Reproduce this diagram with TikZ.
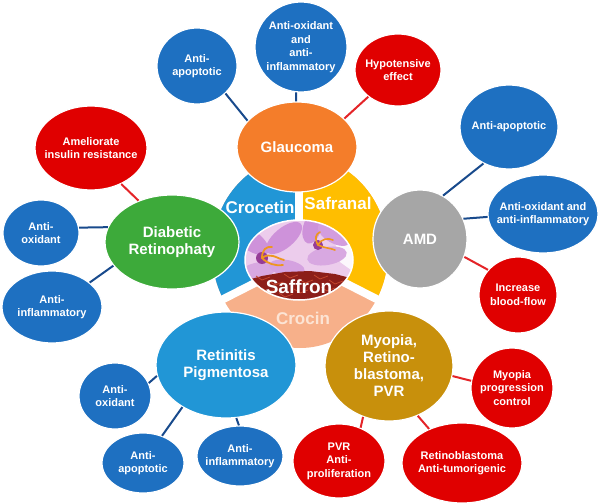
\documentclass[tikz,border=0pt]{standalone}
\usepackage{fontspec}
\setmainfont{Liberation Sans}
\usetikzlibrary{shapes.geometric}
\definecolor{nblue}{RGB}{30,112,193}
\definecolor{nred}{RGB}{224,0,0}
\definecolor{norange}{RGB}{244,125,42}
\definecolor{ngreen}{RGB}{61,170,58}
\definecolor{ngray}{RGB}{166,166,166}
\definecolor{nlblue}{RGB}{33,150,214}
\definecolor{ngold}{RGB}{200,144,12}
\definecolor{rblue}{RGB}{33,150,214}
\definecolor{ryellow}{RGB}{255,190,0}
\definecolor{rpeach}{RGB}{247,176,138}
\definecolor{crocintxt}{RGB}{252,228,212}
\definecolor{cblue}{RGB}{24,74,140}
\definecolor{cred}{RGB}{228,36,40}
\definecolor{saffbg}{RGB}{236,204,236}
\definecolor{petal}{RGB}{206,146,218}
\definecolor{petaldark}{RGB}{150,60,150}
\definecolor{stigma}{RGB}{238,150,30}
\definecolor{thread}{RGB}{140,30,25}
\definecolor{threadlight}{RGB}{195,70,45}
\tikzset{
  blob/.style={ellipse, draw=white, line width=1.2pt, inner sep=0pt},
  lbl/.style={text=white, font=\bfseries\fontsize{11}{13.5}\selectfont, align=center},
  big/.style={text=white, font=\bfseries\fontsize{15}{17}\selectfont, align=center},
  ringtxt/.style={font=\bfseries\fontsize{17}{19}\selectfont},
  bluec/.style={draw=cblue, line width=2pt},
  redc/.style={draw=cred, line width=2pt},
}
\begin{document}
\begin{tikzpicture}[x=1pt,y=1pt]
\useasboundingbox (0,0) rectangle (600,-503);
% ---- ring of compounds ----
\fill[rpeach] (300,-252) ellipse [x radius=88, y radius=96];
\begin{scope}
  \clip (300,-260) -- (300,-100) -- (122,-100) -- (122,-351) -- cycle;
  \fill[rblue] (300,-252) ellipse [x radius=88, y radius=96];
\end{scope}
\begin{scope}
  \clip (300,-260) -- (300,-100) -- (478,-100) -- (478,-351) -- cycle;
  \fill[ryellow] (300,-252) ellipse [x radius=88, y radius=96];
\end{scope}
\draw[white, line width=8pt] (299,-260) -- (299,-140);
\draw[white, line width=8pt] (300,-260) -- ++(207:120);
\draw[white, line width=8pt] (300,-260) -- ++(333:120);
\node[ringtxt, text=white] (tcrocetin) at (260,-207) {Crocetin};
\node[ringtxt, text=white] (tsafranal) at (338,-203) {Safranal};
\node[ringtxt, text=crocintxt] (tcrocin) at (303,-318) {Crocin};
% ---- saffron picture ----
\begin{scope}
  \clip (299,-260) ellipse [x radius=54, y radius=40];
  \fill[saffbg] (240,-215) rectangle (358,-305);
  \fill[white!85!saffbg] (328,-215) -- (358,-215) -- (358,-275) -- (340,-262) -- cycle;
  \fill[petal, rotate around={-35:(250,-240)}] (250,-240) ellipse [x radius=22, y radius=10];
  \fill[petal, rotate around={40:(284,-238)}] (284,-238) ellipse [x radius=22, y radius=10];
  \fill[petal!80!white, rotate around={15:(256,-272)}] (256,-272) ellipse [x radius=20, y radius=9];
  \fill[petal!85!white, rotate around={-10:(287,-268)}] (287,-268) ellipse [x radius=18, y radius=8];
  \fill[petal, rotate around={75:(312,-228)}] (312,-228) ellipse [x radius=16, y radius=9];
  \fill[petal!90!white, rotate around={-30:(334,-234)}] (334,-234) ellipse [x radius=18, y radius=9];
  \fill[petal!80!white, rotate around={10:(327,-256)}] (327,-256) ellipse [x radius=20, y radius=9];
  \fill[petaldark] (262,-258) circle [radius=6];
  \fill[petaldark] (318,-245) circle [radius=5];
  \draw[stigma, line width=1.8pt, line cap=round] (262,-258) .. controls (270,-252) and (276,-258) .. (284,-260);
  \draw[stigma, line width=1.8pt, line cap=round] (262,-258) .. controls (268,-264) and (275,-266) .. (283,-265);
  \draw[stigma, line width=1.8pt, line cap=round] (262,-258) .. controls (262,-250) and (266,-246) .. (272,-247);
  \draw[stigma, line width=1.6pt, line cap=round] (318,-245) .. controls (322,-238) and (328,-238) .. (333,-240);
  \draw[stigma, line width=1.6pt, line cap=round] (318,-245) .. controls (324,-248) and (330,-248) .. (335,-250);
  \draw[stigma, line width=1.6pt, line cap=round] (318,-245) .. controls (314,-238) and (316,-234) .. (320,-232);
  \fill[thread] (240,-282) -- (262,-276) -- (285,-272) -- (310,-271) -- (335,-274) -- (358,-280) -- (358,-305) -- (240,-305) -- cycle;
  \foreach \a/\b in {262/-280, 275/-285, 290/-278, 305/-283, 320/-279, 335/-284, 268/-292, 300/-293, 327/-291, 285/-297}
    \draw[threadlight, line width=0.8pt] (\a,\b) -- ++(8,3) (\a,\b) -- ++(-6,4);
\end{scope}
\node[ellipse, draw=white, line width=1.5pt, inner sep=0pt, minimum width=108pt, minimum height=80pt,
  label={[text=white, font=\bfseries\fontsize{19}{21}\selectfont, yshift=-27pt]center:Saffron}] (saf) at (299,-260) {};
% ---- disease nodes ----
\node[blob, fill=norange, minimum width=120pt, minimum height=90pt, label={[big]center:Glaucoma}] (gl) at (297,-147) {};
\node[blob, fill=ngreen, minimum width=134pt, minimum height=94pt, label={[big]center:Diabetic\\Retinophaty}] (dr) at (172,-242) {};
\node[blob, fill=ngray, minimum width=94pt, minimum height=98pt, label={[big]center:AMD}] (amd) at (420,-239) {};
\node[blob, fill=nlblue, minimum width=140pt, minimum height=106pt, label={[big]center:Retinitis\\Pigmentosa}] (rp) at (226,-365) {};
\node[blob, fill=ngold, minimum width=128pt, minimum height=110pt, label={[big]center:Myopia,\\Retino-\\blastoma,\\PVR}] (my) at (389,-366) {};
% ---- effect nodes ----
\node[blob, fill=nblue, minimum width=92pt, minimum height=90pt, label={[lbl]center:Anti-oxidant\\and\\anti-\\inflammatory}] (ao1) at (301,-47) {};
\node[blob, fill=nblue, minimum width=80pt, minimum height=76pt, label={[lbl]center:Anti-\\apoptotic}] (aa1) at (197,-66) {};
\node[blob, fill=nred, minimum width=86pt, minimum height=72pt, label={[lbl]center:Hypotensive\\effect}] (hyp) at (398,-70) {};
\node[blob, fill=nred, minimum width=112pt, minimum height=84pt, label={[lbl]center:Ameliorate\\insulin resistance}] (am) at (91,-148) {};
\node[blob, fill=nblue, minimum width=76pt, minimum height=66pt, label={[lbl]center:Anti-\\oxidant}] (ox1) at (41,-233) {};
\node[blob, fill=nblue, minimum width=100pt, minimum height=72pt, label={[lbl]center:Anti-\\inflammatory}] (in1) at (52,-307) {};
\node[blob, fill=nblue, minimum width=98pt, minimum height=84pt, label={[lbl]center:Anti-apoptotic}] (aa2) at (509,-127) {};
\node[blob, fill=nblue, minimum width=110pt, minimum height=78pt, label={[lbl]center:Anti-oxidant and\\anti-inflammatory}] (ao2) at (543,-214) {};
\node[blob, fill=nred, minimum width=78pt, minimum height=76pt, label={[lbl]center:Increase\\blood-flow}] (ibf) at (518,-295) {};
\node[blob, fill=nblue, minimum width=72pt, minimum height=66pt, label={[lbl]center:Anti-\\oxidant}] (ox2) at (115,-396) {};
\node[blob, fill=nblue, minimum width=82pt, minimum height=60pt, label={[lbl]center:Anti-\\apoptotic}] (aa3) at (143,-463) {};
\node[blob, fill=nblue, minimum width=86pt, minimum height=60pt, label={[lbl]center:Anti-\\inflammatory}] (in2) at (240,-456) {};
\node[blob, fill=nred, minimum width=82pt, minimum height=80pt, label={[lbl]center:Myopia\\progression\\control}] (mpc) at (512,-388) {};
\node[blob, fill=nred, minimum width=92pt, minimum height=74pt, label={[lbl]center:PVR\\Anti-\\proliferation}] (pvr) at (339,-461) {};
\node[blob, fill=nred, minimum width=120pt, minimum height=80pt, label={[lbl]center:Retinoblastoma\\Anti-tumorigenic}] (rb) at (462,-463) {};
% ---- connectors ----
\draw[bluec] (gl.91) -- (ao1.264);
\draw[bluec] (gl.152) -- (aa1.316);
\draw[redc] (gl.31) -- (hyp.222);
\draw[redc] (dr.129) -- (am.310);
\draw[bluec] (dr.167) -- (ox1.8);
\draw[bluec] (dr.202) -- (in1.33);
\draw[bluec] (amd.62) -- (aa2.235);
\draw[bluec] (amd.25) -- (ao2.183);
\draw[redc] (amd.338) -- (ibf.140);
\draw[bluec] (rp.189) -- (ox2.21);
\draw[bluec] (rp.224) -- (aa3.55);
\draw[bluec] (rp.281) -- (in2.92);
\draw[redc] (my.351) -- (mpc.170);
\draw[redc] (my.243) -- (pvr.57);
\draw[redc] (my.300) -- (rb.134);
\end{tikzpicture}
\end{document}
